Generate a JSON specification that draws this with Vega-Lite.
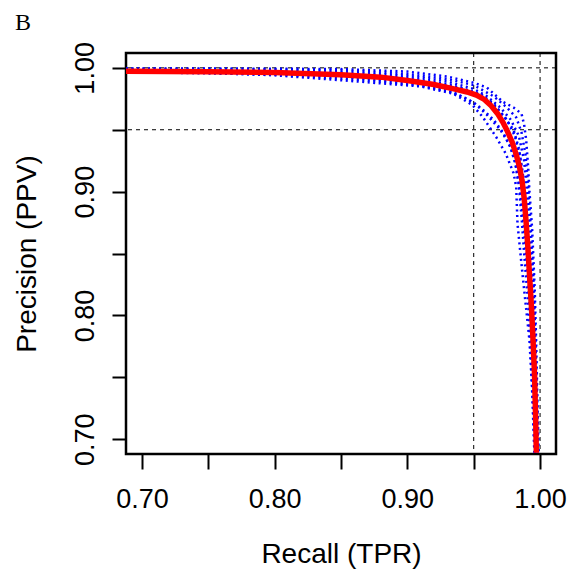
{
  "$schema": "https://vega.github.io/schema/vega-lite/v6.json",
  "width": 430,
  "height": 401,
  "autosize": {"type": "none"},
  "padding": {"left": 126, "top": 53, "right": 20, "bottom": 119},
  "background": "white",
  "title": {"text": "B", "anchor": "start", "frame": "group", "font": "Liberation Serif", "fontSize": 24, "fontWeight": "normal", "color": "black", "baseline": "alphabetic", "offset": -12, "dx": -111},
  "config": {
    "view": {"stroke": "black", "strokeWidth": 2.5},
    "axis": {"grid": false, "domain": false, "tickColor": "black", "tickWidth": 2, "labelFont": "Liberation Sans", "labelFontSize": 27, "labelColor": "black", "titleFont": "Liberation Sans", "titleFontSize": 28, "titleFontWeight": "normal", "titleColor": "black", "labelOverlap": false, "labelFlush": false}
  },
  "datasets": {
    "folds": [
      {"s": "A", "i": 1, "recall": 0.688, "precision": 0.9995},
      {"s": "A", "i": 2, "recall": 0.75, "precision": 0.9995},
      {"s": "A", "i": 3, "recall": 0.80, "precision": 0.9993},
      {"s": "A", "i": 4, "recall": 0.85, "precision": 0.999},
      {"s": "A", "i": 5, "recall": 0.90, "precision": 0.997},
      {"s": "A", "i": 6, "recall": 0.93, "precision": 0.993},
      {"s": "A", "i": 7, "recall": 0.95, "precision": 0.988},
      {"s": "A", "i": 8, "recall": 0.96, "precision": 0.984},
      {"s": "A", "i": 9, "recall": 0.972, "precision": 0.9725},
      {"s": "A", "i": 10, "recall": 0.98, "precision": 0.968},
      {"s": "A", "i": 11, "recall": 0.986, "precision": 0.963},
      {"s": "A", "i": 12, "recall": 0.988, "precision": 0.954},
      {"s": "A", "i": 13, "recall": 0.9895, "precision": 0.942},
      {"s": "A", "i": 14, "recall": 0.991, "precision": 0.92},
      {"s": "A", "i": 15, "recall": 0.992, "precision": 0.90},
      {"s": "A", "i": 16, "recall": 0.994, "precision": 0.87},
      {"s": "A", "i": 17, "recall": 0.996, "precision": 0.82},
      {"s": "A", "i": 18, "recall": 0.997, "precision": 0.78},
      {"s": "A", "i": 19, "recall": 0.998, "precision": 0.73},
      {"s": "A", "i": 20, "recall": 0.999, "precision": 0.689},
      {"s": "B", "i": 1, "recall": 0.688, "precision": 0.9985},
      {"s": "B", "i": 2, "recall": 0.75, "precision": 0.998},
      {"s": "B", "i": 3, "recall": 0.80, "precision": 0.9975},
      {"s": "B", "i": 4, "recall": 0.85, "precision": 0.9965},
      {"s": "B", "i": 5, "recall": 0.90, "precision": 0.9935},
      {"s": "B", "i": 6, "recall": 0.93, "precision": 0.989},
      {"s": "B", "i": 7, "recall": 0.95, "precision": 0.983},
      {"s": "B", "i": 8, "recall": 0.96, "precision": 0.977},
      {"s": "B", "i": 9, "recall": 0.97, "precision": 0.968},
      {"s": "B", "i": 10, "recall": 0.978, "precision": 0.958},
      {"s": "B", "i": 11, "recall": 0.984, "precision": 0.945},
      {"s": "B", "i": 12, "recall": 0.988, "precision": 0.925},
      {"s": "B", "i": 13, "recall": 0.990, "precision": 0.90},
      {"s": "B", "i": 14, "recall": 0.992, "precision": 0.87},
      {"s": "B", "i": 15, "recall": 0.994, "precision": 0.83},
      {"s": "B", "i": 16, "recall": 0.9955, "precision": 0.79},
      {"s": "B", "i": 17, "recall": 0.997, "precision": 0.74},
      {"s": "B", "i": 18, "recall": 0.998, "precision": 0.689},
      {"s": "C", "i": 1, "recall": 0.688, "precision": 0.997},
      {"s": "C", "i": 2, "recall": 0.75, "precision": 0.9962},
      {"s": "C", "i": 3, "recall": 0.80, "precision": 0.995},
      {"s": "C", "i": 4, "recall": 0.85, "precision": 0.993},
      {"s": "C", "i": 5, "recall": 0.90, "precision": 0.988},
      {"s": "C", "i": 6, "recall": 0.93, "precision": 0.982},
      {"s": "C", "i": 7, "recall": 0.945, "precision": 0.975},
      {"s": "C", "i": 8, "recall": 0.955, "precision": 0.968},
      {"s": "C", "i": 9, "recall": 0.965, "precision": 0.958},
      {"s": "C", "i": 10, "recall": 0.972, "precision": 0.948},
      {"s": "C", "i": 11, "recall": 0.978, "precision": 0.935},
      {"s": "C", "i": 12, "recall": 0.982, "precision": 0.92},
      {"s": "C", "i": 13, "recall": 0.985, "precision": 0.90},
      {"s": "C", "i": 14, "recall": 0.988, "precision": 0.87},
      {"s": "C", "i": 15, "recall": 0.991, "precision": 0.83},
      {"s": "C", "i": 16, "recall": 0.993, "precision": 0.79},
      {"s": "C", "i": 17, "recall": 0.995, "precision": 0.74},
      {"s": "C", "i": 18, "recall": 0.9965, "precision": 0.689},
      {"s": "D", "i": 1, "recall": 0.688, "precision": 0.9965},
      {"s": "D", "i": 2, "recall": 0.75, "precision": 0.996},
      {"s": "D", "i": 3, "recall": 0.80, "precision": 0.994},
      {"s": "D", "i": 4, "recall": 0.85, "precision": 0.990},
      {"s": "D", "i": 5, "recall": 0.88, "precision": 0.9875},
      {"s": "D", "i": 6, "recall": 0.91, "precision": 0.985},
      {"s": "D", "i": 7, "recall": 0.935, "precision": 0.979},
      {"s": "D", "i": 8, "recall": 0.949, "precision": 0.970},
      {"s": "D", "i": 9, "recall": 0.957, "precision": 0.960},
      {"s": "D", "i": 10, "recall": 0.967, "precision": 0.944},
      {"s": "D", "i": 11, "recall": 0.974, "precision": 0.931},
      {"s": "D", "i": 12, "recall": 0.980, "precision": 0.915},
      {"s": "D", "i": 13, "recall": 0.982, "precision": 0.904},
      {"s": "D", "i": 14, "recall": 0.983, "precision": 0.874},
      {"s": "D", "i": 15, "recall": 0.9867, "precision": 0.834},
      {"s": "D", "i": 16, "recall": 0.992, "precision": 0.78},
      {"s": "D", "i": 17, "recall": 0.994, "precision": 0.74},
      {"s": "D", "i": 18, "recall": 0.9957, "precision": 0.689},
      {"s": "E", "i": 1, "recall": 0.688, "precision": 0.9975},
      {"s": "E", "i": 2, "recall": 0.75, "precision": 0.997},
      {"s": "E", "i": 3, "recall": 0.80, "precision": 0.9965},
      {"s": "E", "i": 4, "recall": 0.85, "precision": 0.995},
      {"s": "E", "i": 5, "recall": 0.90, "precision": 0.991},
      {"s": "E", "i": 6, "recall": 0.94, "precision": 0.984},
      {"s": "E", "i": 7, "recall": 0.955, "precision": 0.978},
      {"s": "E", "i": 8, "recall": 0.965, "precision": 0.97},
      {"s": "E", "i": 9, "recall": 0.975, "precision": 0.958},
      {"s": "E", "i": 10, "recall": 0.981, "precision": 0.945},
      {"s": "E", "i": 11, "recall": 0.985, "precision": 0.928},
      {"s": "E", "i": 12, "recall": 0.987, "precision": 0.91},
      {"s": "E", "i": 13, "recall": 0.989, "precision": 0.885},
      {"s": "E", "i": 14, "recall": 0.991, "precision": 0.855},
      {"s": "E", "i": 15, "recall": 0.993, "precision": 0.81},
      {"s": "E", "i": 16, "recall": 0.995, "precision": 0.76},
      {"s": "E", "i": 17, "recall": 0.997, "precision": 0.71},
      {"s": "E", "i": 18, "recall": 0.9975, "precision": 0.689},
      {"s": "F", "i": 1, "recall": 0.688, "precision": 0.9993},
      {"s": "F", "i": 2, "recall": 0.75, "precision": 0.999},
      {"s": "F", "i": 3, "recall": 0.80, "precision": 0.9988},
      {"s": "F", "i": 4, "recall": 0.85, "precision": 0.998},
      {"s": "F", "i": 5, "recall": 0.90, "precision": 0.995},
      {"s": "F", "i": 6, "recall": 0.93, "precision": 0.991},
      {"s": "F", "i": 7, "recall": 0.95, "precision": 0.986},
      {"s": "F", "i": 8, "recall": 0.965, "precision": 0.977},
      {"s": "F", "i": 9, "recall": 0.975, "precision": 0.968},
      {"s": "F", "i": 10, "recall": 0.982, "precision": 0.96},
      {"s": "F", "i": 11, "recall": 0.986, "precision": 0.948},
      {"s": "F", "i": 12, "recall": 0.989, "precision": 0.93},
      {"s": "F", "i": 13, "recall": 0.991, "precision": 0.905},
      {"s": "F", "i": 14, "recall": 0.993, "precision": 0.87},
      {"s": "F", "i": 15, "recall": 0.995, "precision": 0.83},
      {"s": "F", "i": 16, "recall": 0.9965, "precision": 0.78},
      {"s": "F", "i": 17, "recall": 0.998, "precision": 0.72},
      {"s": "F", "i": 18, "recall": 0.9985, "precision": 0.689},
      {"s": "G", "i": 1, "recall": 0.688, "precision": 0.9968},
      {"s": "G", "i": 2, "recall": 0.75, "precision": 0.9955},
      {"s": "G", "i": 3, "recall": 0.80, "precision": 0.9945},
      {"s": "G", "i": 4, "recall": 0.85, "precision": 0.9915},
      {"s": "G", "i": 5, "recall": 0.88, "precision": 0.989},
      {"s": "G", "i": 6, "recall": 0.91, "precision": 0.9855},
      {"s": "G", "i": 7, "recall": 0.935, "precision": 0.980},
      {"s": "G", "i": 8, "recall": 0.95, "precision": 0.972},
      {"s": "G", "i": 9, "recall": 0.96, "precision": 0.962},
      {"s": "G", "i": 10, "recall": 0.97, "precision": 0.950},
      {"s": "G", "i": 11, "recall": 0.977, "precision": 0.938},
      {"s": "G", "i": 12, "recall": 0.981, "precision": 0.925},
      {"s": "G", "i": 13, "recall": 0.984, "precision": 0.905},
      {"s": "G", "i": 14, "recall": 0.986, "precision": 0.88},
      {"s": "G", "i": 15, "recall": 0.988, "precision": 0.85},
      {"s": "G", "i": 16, "recall": 0.991, "precision": 0.81},
      {"s": "G", "i": 17, "recall": 0.993, "precision": 0.77},
      {"s": "G", "i": 18, "recall": 0.995, "precision": 0.72},
      {"s": "G", "i": 19, "recall": 0.996, "precision": 0.689},
      {"s": "H", "i": 1, "recall": 0.688, "precision": 0.998},
      {"s": "H", "i": 2, "recall": 0.75, "precision": 0.9975},
      {"s": "H", "i": 3, "recall": 0.80, "precision": 0.997},
      {"s": "H", "i": 4, "recall": 0.85, "precision": 0.9955},
      {"s": "H", "i": 5, "recall": 0.90, "precision": 0.992},
      {"s": "H", "i": 6, "recall": 0.93, "precision": 0.987},
      {"s": "H", "i": 7, "recall": 0.955, "precision": 0.979},
      {"s": "H", "i": 8, "recall": 0.965, "precision": 0.971},
      {"s": "H", "i": 9, "recall": 0.972, "precision": 0.962},
      {"s": "H", "i": 10, "recall": 0.98, "precision": 0.95},
      {"s": "H", "i": 11, "recall": 0.984, "precision": 0.935},
      {"s": "H", "i": 12, "recall": 0.987, "precision": 0.915},
      {"s": "H", "i": 13, "recall": 0.988, "precision": 0.89},
      {"s": "H", "i": 14, "recall": 0.99, "precision": 0.86},
      {"s": "H", "i": 15, "recall": 0.992, "precision": 0.82},
      {"s": "H", "i": 16, "recall": 0.9945, "precision": 0.77},
      {"s": "H", "i": 17, "recall": 0.9962, "precision": 0.72},
      {"s": "H", "i": 18, "recall": 0.997, "precision": 0.689}
    ],
    "mean": [
      {"i": 1, "recall": 0.688, "precision": 0.9973},
      {"i": 2, "recall": 0.75, "precision": 0.9968},
      {"i": 3, "recall": 0.80, "precision": 0.9962},
      {"i": 4, "recall": 0.85, "precision": 0.9945},
      {"i": 5, "recall": 0.88, "precision": 0.9925},
      {"i": 6, "recall": 0.90, "precision": 0.9898},
      {"i": 7, "recall": 0.92, "precision": 0.9865},
      {"i": 8, "recall": 0.935, "precision": 0.983},
      {"i": 9, "recall": 0.945, "precision": 0.9805},
      {"i": 10, "recall": 0.952, "precision": 0.978},
      {"i": 11, "recall": 0.958, "precision": 0.9745},
      {"i": 12, "recall": 0.963, "precision": 0.9695},
      {"i": 13, "recall": 0.968, "precision": 0.963},
      {"i": 14, "recall": 0.972, "precision": 0.956},
      {"i": 15, "recall": 0.9755, "precision": 0.9485},
      {"i": 16, "recall": 0.979, "precision": 0.94},
      {"i": 17, "recall": 0.982, "precision": 0.93},
      {"i": 18, "recall": 0.9845, "precision": 0.92},
      {"i": 19, "recall": 0.9865, "precision": 0.908},
      {"i": 20, "recall": 0.988, "precision": 0.895},
      {"i": 21, "recall": 0.9895, "precision": 0.875},
      {"i": 22, "recall": 0.9908, "precision": 0.855},
      {"i": 23, "recall": 0.9922, "precision": 0.83},
      {"i": 24, "recall": 0.9935, "precision": 0.807},
      {"i": 25, "recall": 0.9947, "precision": 0.78},
      {"i": 26, "recall": 0.9958, "precision": 0.753},
      {"i": 27, "recall": 0.9966, "precision": 0.72},
      {"i": 28, "recall": 0.9972, "precision": 0.689}
    ],
    "vref": [{"v": 0.95}, {"v": 1.0}],
    "href": [{"v": 0.95}, {"v": 1.0}]
  },
  "layer": [
    {
      "data": {"name": "vref"},
      "mark": {"type": "rule", "color": "black", "strokeWidth": 1, "strokeDash": [4, 4]},
      "encoding": {
        "x": {"field": "v", "type": "quantitative", "scale": {"domain": [0.688, 1.012], "nice": false, "zero": false},
          "axis": {"values": [0.7, 0.75, 0.8, 0.85, 0.9, 0.95, 1.0], "labelExpr": "abs(datum.value*10 - round(datum.value*10)) < 0.001 ? format(datum.value, '.2f') : ''", "tickSize": 15, "labelPadding": 17, "title": "Recall (TPR)", "titlePadding": 28}}
      }
    },
    {
      "data": {"name": "href"},
      "mark": {"type": "rule", "color": "black", "strokeWidth": 1, "strokeDash": [4, 4]},
      "encoding": {
        "y": {"field": "v", "type": "quantitative", "scale": {"domain": [0.688, 1.012], "nice": false, "zero": false},
          "axis": {"values": [0.7, 0.75, 0.8, 0.85, 0.9, 0.95, 1.0], "labelExpr": "abs(datum.value*10 - round(datum.value*10)) < 0.001 ? format(datum.value, '.2f') : ''", "tickSize": 14, "labelPadding": 19, "labelAngle": 270, "labelAlign": "center", "labelBaseline": "alphabetic", "title": "Precision (PPV)", "titlePadding": 30}}
      }
    },
    {
      "data": {"name": "folds"},
      "mark": {"type": "line", "color": "#0000ff", "strokeWidth": 2.5, "strokeDash": [2, 3.5], "clip": true},
      "encoding": {
        "x": {"field": "recall", "type": "quantitative"},
        "y": {"field": "precision", "type": "quantitative"},
        "detail": {"field": "s"},
        "order": {"field": "i", "type": "quantitative"}
      }
    },
    {
      "data": {"name": "mean"},
      "mark": {"type": "line", "color": "#ff0000", "strokeWidth": 5.5, "clip": true},
      "encoding": {
        "x": {"field": "recall", "type": "quantitative"},
        "y": {"field": "precision", "type": "quantitative"},
        "order": {"field": "i", "type": "quantitative"}
      }
    }
  ]
}
